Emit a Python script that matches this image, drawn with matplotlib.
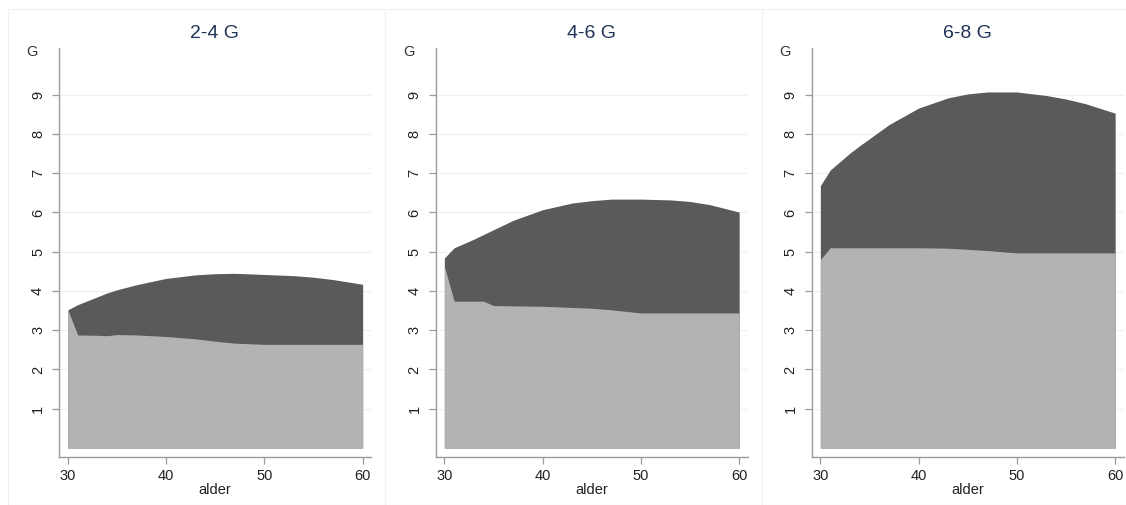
import matplotlib
matplotlib.use("Agg")
import matplotlib.pyplot as plt
from matplotlib.patches import Rectangle

plt.rcParams['font.family'] = ['Liberation Sans', 'DejaVu Sans']

titles = ["2-4 G", "4-6 G", "6-8 G"]
ages = [30, 31, 33, 34, 35, 37, 40, 43, 45, 47, 50, 53, 55, 57, 60]

total_24 = [3.52, 3.65, 3.85, 3.95, 4.03, 4.16, 4.32, 4.41, 4.44, 4.45, 4.42, 4.39, 4.35, 4.29, 4.17]
base_24 = [3.52, 2.88, 2.87, 2.86, 2.89, 2.88, 2.84, 2.78, 2.72, 2.67, 2.64, 2.64, 2.64, 2.64, 2.64]

total_46 = [4.84, 5.10, 5.32, 5.44, 5.56, 5.80, 6.07, 6.24, 6.30, 6.34, 6.34, 6.32, 6.28, 6.20, 6.01]
base_46 = [4.63, 3.74, 3.74, 3.74, 3.63, 3.62, 3.61, 3.58, 3.56, 3.52, 3.44, 3.44, 3.44, 3.44, 3.44]

total_68 = [6.68, 7.08, 7.51, 7.70, 7.88, 8.24, 8.66, 8.92, 9.02, 9.07, 9.07, 8.98, 8.89, 8.77, 8.53]
base_68 = [4.80, 5.10, 5.10, 5.10, 5.10, 5.10, 5.10, 5.09, 5.06, 5.03, 4.97, 4.97, 4.97, 4.97, 4.97]

totals = [total_24, total_46, total_68]
bases = [base_24, base_46, base_68]

xticks = [30, 40, 50, 60]
yticks = [1, 2, 3, 4, 5, 6, 7, 8, 9]

W, H = 1126, 505
fig = plt.figure(figsize=(W / 100, H / 100), dpi=100)

dark = '#5a5a5a'
light = '#b5b2b6'
axis_col = '#9a9a9a'
title_col = '#1f3356'

lefts = [59, 435.5, 811.5]
panel_lefts = [8, 385, 762]
top_px, bottom_px, width_px = 48, 457, 312

for i in range(3):
    # faint panel border
    fig.patches.append(Rectangle((panel_lefts[i] / W, 0.0), 377 / W, (H - 9) / H,
                                 transform=fig.transFigure, fill=False,
                                 edgecolor='#efefef', linewidth=0.8))
    ax = fig.add_axes([lefts[i] / W, 1 - bottom_px / H, width_px / W, (bottom_px - top_px) / H])
    ax.fill_between(ages, 0, totals[i], color=dark, linewidth=0)
    ax.fill_between(ages, 0, bases[i], color=light, linewidth=0)
    ax.set_xlim(29.1, 60.85)
    ax.set_ylim(-0.23, 10.19)
    ax.set_xticks(xticks)
    ax.set_yticks(yticks)
    ax.set_yticklabels([str(v) for v in yticks], rotation=90, va='center')
    ax.tick_params(axis='both', colors=axis_col, length=5, width=0.9, labelcolor='#222222')
    ax.tick_params(axis='x', labelsize=10.5, pad=4)
    ax.tick_params(axis='y', labelsize=10.5, pad=5)
    for s in ['top', 'right']:
        ax.spines[s].set_visible(False)
    for s in ['left', 'bottom']:
        ax.spines[s].set_color(axis_col)
        ax.spines[s].set_linewidth(1.0)
    ax.grid(axis='y', color='#efefef', linewidth=0.8)
    ax.set_axisbelow(True)
    ax.set_xlabel('alder', fontsize=10.5, color='#222222', labelpad=0)
    ax.set_title(titles[i], fontsize=14, color=title_col, pad=7)
    fig.text((lefts[i] - 27) / W, 1 - 52 / H, 'G', fontsize=10.5, color='#333333',
             ha='center', va='center')

fig.savefig('out.png', dpi=100, facecolor='white')
